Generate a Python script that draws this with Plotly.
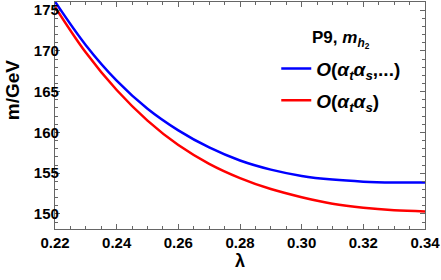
import plotly.graph_objects as go

lam = [0.22, 0.23, 0.24, 0.25, 0.26, 0.27, 0.28, 0.29, 0.30, 0.31, 0.32, 0.33, 0.34]
m_full = [176.05, 170.7, 166.35, 162.9, 160.25, 158.15, 156.55, 155.43, 154.66, 154.21, 153.96, 153.86, 153.84]
m_ats = [175.4, 169.8, 165.2, 161.45, 158.45, 156.15, 154.4, 153.05, 152.05, 151.25, 150.75, 150.45, 150.31]

x_ticks = [0.22, 0.24, 0.26, 0.28, 0.30, 0.32, 0.34]
x_labels = ["0.22", "0.24", "0.26", "0.28", "0.30", "0.32", "0.34"]
y_ticks = [150, 155, 160, 165, 170, 175]
y_labels = ["150", "155", "160", "165", "170", "175"]

FONT = "Liberation Sans"

fig = go.Figure()
fig.add_trace(go.Scatter(
    x=lam, y=m_full, mode="lines", line=dict(color="#0000ff", width=2.5, shape="spline"),
    name="<b><i>O</i>(<i>α</i><sub><i>t</i></sub><i>α</i><sub><i>s</i></sub>,...)</b>",
    legendgroup="a"))
fig.add_trace(go.Scatter(
    x=lam, y=m_ats, mode="lines", line=dict(color="#ff0000", width=2.5, shape="spline"),
    name="<b><i>O</i>(<i>α</i><sub><i>t</i></sub><i>α</i><sub><i>s</i></sub>)</b>",
    legendgroup="b"))

axis_common = dict(
    showline=True, linecolor="#666666", linewidth=1.2, mirror="ticks",
    ticks="inside", ticklen=5, tickcolor="#666666", tickwidth=1,
    showgrid=False, zeroline=False,
    tickfont=dict(family=FONT, size=15, color="black"),
)

fig.update_xaxes(
    range=[0.22, 0.34], tickvals=x_ticks, ticktext=["<b>%s</b>" % t for t in x_labels],
    minor=dict(dtick=0.005, ticks="inside", ticklen=2.5, tickcolor="#666666"),
    title=dict(text="<b>λ</b>", font=dict(family=FONT, size=18, color="black"), standoff=4),
    **axis_common)
fig.update_yaxes(
    range=[148.15, 176.0], tickvals=y_ticks, ticktext=["<b>%s</b>" % t for t in y_labels],
    minor=dict(dtick=1, ticks="inside", ticklen=2.5, tickcolor="#666666"),
    ticklabelstandoff=-8,
    **axis_common)

fig.add_annotation(
    x=-0.116, y=0.612, xref="paper", yref="paper", xanchor="center", yanchor="middle",
    text="<b>m/GeV</b>", textangle=-90, showarrow=False,
    font=dict(family=FONT, size=19, color="black"))

fig.add_annotation(
    x=0.773, y=0.833, xref="paper", yref="paper", xanchor="center", yanchor="middle",
    text="<b>P9, <i>m</i><sub><i>h</i><sub>2</sub></sub></b>", showarrow=False,
    font=dict(family=FONT, size=17, color="black"))

fig.update_layout(
    width=441, height=280,
    margin=dict(l=55, r=16, t=2, b=51),
    paper_bgcolor="white", plot_bgcolor="white",
    showlegend=True,
    legend=dict(
        x=0.598, y=0.79, xanchor="left", yanchor="top",
        bgcolor="rgba(0,0,0,0)",
        font=dict(family=FONT, size=19, color="black"),
        itemwidth=30, tracegroupgap=4,
    ),
)

fig.write_html("out.html", config={"displayModeBar": False},
               post_script="document.body.style.margin='0';")
